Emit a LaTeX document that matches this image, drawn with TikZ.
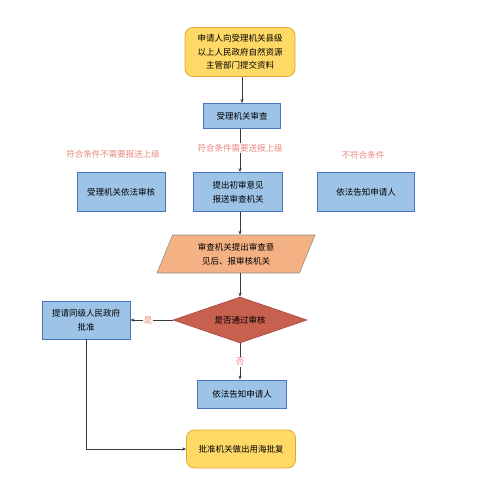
\documentclass[tikz,border=0pt]{standalone}
\usepackage{fontspec}
\setmainfont{Noto Sans CJK SC}
\usetikzlibrary{arrows.meta, shapes.geometric}

\definecolor{termfill}{HTML}{FFD966}
\definecolor{termline}{HTML}{E0A832}
\definecolor{procfill}{HTML}{9DC3E6}
\definecolor{procline}{HTML}{4A74BE}
\definecolor{iofill}{HTML}{F4B183}
\definecolor{ioline}{HTML}{8E8E8E}
\definecolor{decfill}{HTML}{C8604F}
\definecolor{decline}{HTML}{A8483A}
\definecolor{notecol}{HTML}{E8877C}
\definecolor{wire}{HTML}{3A3A3A}

\tikzset{
  term/.style={draw=termline, fill=termfill, rounded corners=8pt, line width=0.8pt, align=center, inner sep=0pt},
  proc/.style={draw=procline, fill=procfill, line width=0.8pt, align=center, inner sep=0pt},
  io/.style={trapezium, trapezium left angle=54, trapezium right angle=126, trapezium stretches body,
    draw=ioline, fill=iofill, line width=0.6pt, align=center, inner sep=0pt},
  dec/.style={diamond, aspect=2.9, draw=decline, fill=decfill, line width=0.6pt, inner sep=0pt},
  note/.style={text=notecol, inner sep=1pt},
  link/.style={draw=wire, line width=0.6pt},
}

\begin{document}
\begin{tikzpicture}[x=1pt, y=1pt, >={Stealth[length=4pt, width=3.2pt]},
  font=\fontsize{8.5}{13.5}\selectfont]
\useasboundingbox (0,0) rectangle (500,496);

% Main column
\node[term, minimum width=110, minimum height=49] (apply) at (240,444)
  {申请人向受理机关县级\\以上人民政府自然资源\\主管部门提交资料};
\node[proc, minimum width=77, minimum height=25] (check) at (242,380) {受理机关审查};

% Branch labels
\node[note] (need) at (240,348) {符合条件需要送报上级};
\node[note] (noneed) at (113,342) {符合条件不需要报送上级};
\node[note] (nofit) at (363,341) {不符合条件};

% Second row
\node[proc, minimum width=88, minimum height=39] (review) at (121,304) {受理机关依法审核};
\node[proc, minimum width=89, minimum height=39] (first) at (238,304) {提出初审意见\\报送审查机关};
\node[proc, minimum width=97, minimum height=39] (tell) at (366,304) {依法告知申请人};

\node[io, minimum width=158, minimum height=38] (report) at (236,242)
  {审查机关提出审查意\\见后、报审核机关};
\node[dec, minimum width=134, minimum height=46] (pass) at (240,176) {是否通过审核};

\node[proc, minimum width=88, minimum height=38] (approve) at (86,176) {提请同级人民政府\\批准};
\node[note] (yes) at (148,176) {是};
\node[note] (no) at (240,134) {否};
\node[proc, minimum width=89, minimum height=28] (tell2) at (242,102) {依法告知申请人};
\node[term, minimum width=109, minimum height=38] (reply) at (241,47) {批准机关做出用海批复};

% Connectors
\draw[link, ->] (apply.south -| check) -- (check.north);
\draw[link] (check.south -| need) -- (need.north);
\draw[link, ->] (need.south) -- (need.south |- first.north);
\draw[link, ->] (first.south -| 240,0) -- (report.north -| 240,0);
\draw[link, ->] (report.south -| 240,0) -- (pass.north);
\draw[link] (pass.west) -- (yes.east);
\draw[link, ->] (yes.west) -- (approve.east);
\draw[link] (pass.south) -- (no.north);
\draw[link, ->] (no.south) -- (no.south |- tell2.north);
\draw[link, ->] (approve.south) |- (reply.west);

\end{tikzpicture}
\end{document}
